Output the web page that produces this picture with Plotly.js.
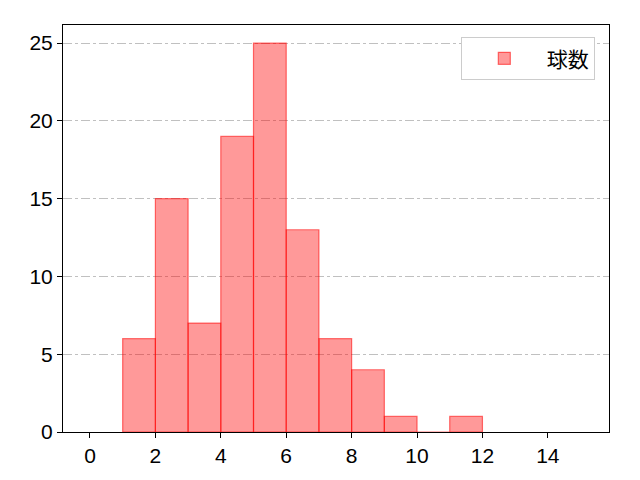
<!DOCTYPE html>
<html>
<head>
<meta charset="utf-8">
<script src="https://cdn.plot.ly/plotly-3.0.1.min.js"></script>
<style>
  body { margin: 0; }
  #chart { width: 640px; height: 480px; }
</style>
</head>
<body>
<div id="chart"></div>
<script>
// histogram bins (left edges) and counts
var binStarts = [1, 2, 3, 4, 5, 6, 7, 8, 9, 10, 11];
var counts = [6, 15, 7, 19, 25, 13, 6, 4, 1, 0, 1];
var seriesName = '球数';
var xTicks = [0, 2, 4, 6, 8, 10, 12, 14];
var yTicks = [0, 5, 10, 15, 20, 25];

var FONT = 'Noto Sans CJK JP, DejaVu Sans, sans-serif';
var TICKFONT = { family: 'Liberation Sans, Arial, sans-serif', size: 21, color: 'black' };

Plotly.newPlot('chart', [{
    type: 'bar',
    x: binStarts,
    y: counts,
    width: 1,
    offset: 0,
    name: seriesName,
    showlegend: true,
    marker: {
        color: 'rgba(255,0,0,0.4)',
        line: { color: 'rgba(255,0,0,0.55)', width: 1.2 }
    }
}], {
    width: 640,
    height: 480,
    margin: { l: 63, r: 31, t: 25, b: 48 },
    paper_bgcolor: 'white',
    plot_bgcolor: 'white',
    font: { family: FONT, size: 20, color: 'black' },
    bargap: 0,
    xaxis: {
        range: [-0.825, 15.87],
        tickvals: xTicks,
        tickfont: TICKFONT,
        ticks: 'outside',
        ticklen: 5,
        tickcolor: 'black',
        showgrid: false,
        zeroline: false,
        showline: true,
        linecolor: 'black',
        linewidth: 1,
        mirror: true
    },
    yaxis: {
        range: [0, 26.16],
        tickvals: yTicks,
        tickfont: TICKFONT,
        ticks: 'outside',
        ticklen: 5,
        tickcolor: 'black',
        showgrid: true,
        gridcolor: '#b0b0b0',
        griddash: 'dashdot',
        gridwidth: 0.8,
        zeroline: false,
        showline: true,
        linecolor: 'black',
        linewidth: 1,
        mirror: true
    },
    legend: {
        x: 0.974,
        y: 0.97,
        xanchor: 'right',
        yanchor: 'top',
        bgcolor: 'white',
        bordercolor: '#cccccc',
        borderwidth: 1,
        itemwidth: 75,
        font: { family: FONT, size: 21 }
    }
}, { staticPlot: true });
</script>
</body>
</html>
